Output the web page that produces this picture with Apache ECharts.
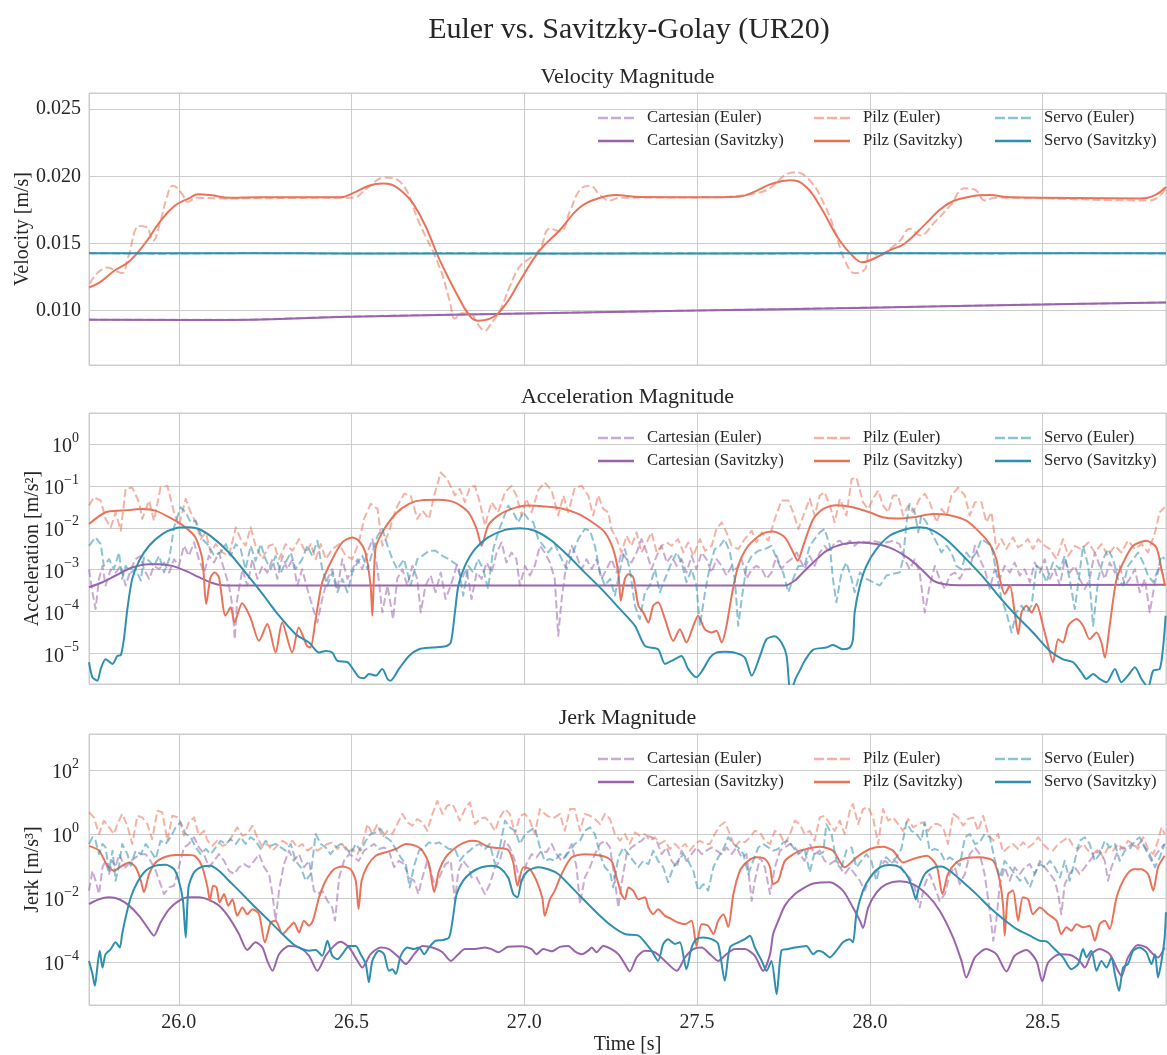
<!DOCTYPE html>
<html><head><meta charset="utf-8">
<script src="https://cdn.jsdelivr.net/npm/echarts@6/dist/echarts.min.js"></script>
<style>html,body{margin:0;padding:0;background:#fff}#c{width:1167px;height:1055px}</style>
</head><body><div id="c"></div>
<script>
// ---------- Tick labels ----------
const X_TICK_VALUES = [26.0, 26.5, 27.0, 27.5, 28.0, 28.5];
const VEL_TICK_VALUES = [0.010, 0.015, 0.020, 0.025];
const ACC_TICK_EXPONENTS = [-5, -4, -3, -2, -1, 0];
const JERK_TICK_EXPONENTS = [-4, -2, 0, 2];
const ROBOTS = ['Cartesian', 'Pilz', 'Servo'];
const PANEL_TITLES = ['Velocity Magnitude', 'Acceleration Magnitude', 'Jerk Magnitude'];

// ---------- Velocity [m/s]  ([time s, value]) ----------
const VEL_CART_EULER = [[25.740,0.00933],[26.100,0.00931],[26.500,0.00956],[27.000,0.00979],[27.500,0.01001],[28.000,0.01023],[28.500,0.01046],[28.857,0.01061]];
const VEL_CART_SG = [[25.740,0.00932],[26.100,0.00930],[26.500,0.00955],[27.000,0.00978],[27.500,0.01000],[28.000,0.01022],[28.500,0.01045],[28.857,0.01060]];
const VEL_PILZ_EULER = [[25.742,0.0120],[25.792,0.0132],[25.835,0.0128],[25.852,0.0139],[25.887,0.0163],[25.907,0.0162],[25.925,0.0152],[25.945,0.0165],[25.965,0.0184],[25.983,0.0193],[26.009,0.0187],[26.026,0.0181],[26.052,0.0184],[26.119,0.01835],[26.466,0.0184],[26.504,0.0184],[26.544,0.0191],[26.596,0.0199],[26.640,0.0196],[26.698,0.0164],[26.755,0.0132],[26.784,0.0107],[26.799,0.0094],[26.819,0.0098],[26.842,0.0098],[26.865,0.0090],[26.886,0.0085],[26.900,0.0089],[26.929,0.0100],[26.958,0.0118],[26.987,0.0133],[27.016,0.0139],[27.045,0.0146],[27.074,0.0161],[27.103,0.0159],[27.132,0.0174],[27.161,0.0190],[27.190,0.0193],[27.219,0.0186],[27.247,0.0182],[27.276,0.0184],[27.508,0.01843],[27.682,0.0188],[27.783,0.0203],[27.826,0.0197],[27.870,0.0178],[27.899,0.0159],[27.928,0.0137],[27.957,0.0128],[27.986,0.0131],[28.000,0.0144],[28.029,0.0141],[28.058,0.0146],[28.087,0.0152],[28.116,0.0161],[28.145,0.0156],[28.188,0.0166],[28.232,0.0178],[28.275,0.0191],[28.304,0.0190],[28.333,0.0182],[28.362,0.0184],[28.810,0.0182],[28.857,0.0191]];
const VEL_PILZ_SG = [[25.740,0.01172],[25.771,0.0121],[25.815,0.0130],[25.858,0.0137],[25.902,0.0150],[25.945,0.0166],[25.988,0.0178],[26.032,0.0184],[26.055,0.01866],[26.090,0.0186],[26.148,0.0184],[26.234,0.01843],[26.466,0.01843],[26.509,0.0188],[26.550,0.0193],[26.590,0.01946],[26.640,0.0190],[26.698,0.0171],[26.756,0.0137],[26.799,0.0115],[26.842,0.0096],[26.865,0.00925],[26.900,0.0094],[26.944,0.0104],[26.987,0.0122],[27.045,0.0145],[27.103,0.0160],[27.161,0.0177],[27.219,0.0184],[27.262,0.0186],[27.334,0.01845],[27.508,0.01843],[27.624,0.0185],[27.670,0.0189],[27.711,0.0194],[27.768,0.0197],[27.812,0.0193],[27.855,0.0178],[27.913,0.0152],[27.957,0.0139],[27.977,0.0136],[28.014,0.0139],[28.058,0.0145],[28.101,0.0150],[28.159,0.0164],[28.217,0.0178],[28.275,0.0184],[28.347,0.0186],[28.405,0.01843],[28.781,0.01835],[28.825,0.0186],[28.857,0.0192]];
const VEL_SERVO_EULER = [[25.740,0.01428],[25.950,0.01424],[26.200,0.01428],[26.500,0.01425],[26.800,0.01428],[27.100,0.01424],[27.400,0.01427],[27.700,0.01424],[28.000,0.01428],[28.300,0.01425],[28.600,0.01428],[28.857,0.01425]];
const VEL_SERVO_SG = [[25.740,0.01427],[26.500,0.01426],[27.500,0.01426],[28.857,0.01427]];

// ---------- Acceleration, log10 of magnitude [m/s²]  ([time s, log10 value]) ----------
const ACC_CART_EULER_LOG10 = [[25.740,-2.99],[25.750,-3.54],[25.759,-3.94],[25.769,-3.22],[25.779,-2.91],[25.788,-3.38],[25.803,-2.99],[25.817,-3.07],[25.832,-2.91],[25.846,-3.38],[25.861,-2.99],[25.875,-2.75],[25.890,-2.67],[25.899,-2.99],[25.914,-3.22],[25.928,-2.91],[25.943,-2.99],[25.957,-2.83],[25.972,-3.07],[25.986,-2.75],[26.000,-2.91],[26.015,-2.43],[26.029,-2.67],[26.044,-2.35],[26.058,-2.75],[26.073,-3.07],[26.087,-2.67],[26.102,-2.83],[26.116,-2.59],[26.131,-2.99],[26.145,-3.38],[26.155,-3.86],[26.162,-4.66],[26.169,-3.70],[26.184,-2.99],[26.198,-3.38],[26.213,-2.75],[26.227,-3.22],[26.242,-2.91],[26.256,-3.07],[26.271,-2.75],[26.285,-3.22],[26.300,-2.67],[26.314,-2.99],[26.329,-2.75],[26.343,-3.38],[26.357,-2.99],[26.372,-3.46],[26.386,-3.86],[26.401,-4.26],[26.415,-3.70],[26.430,-3.22],[26.444,-2.99],[26.459,-3.46],[26.473,-2.75],[26.488,-3.22],[26.502,-2.99],[26.517,-2.75],[26.531,-2.99],[26.546,-2.59],[26.560,-2.27],[26.575,-2.99],[26.589,-4.02],[26.604,-3.38],[26.620,-4.18],[26.632,-3.22],[26.647,-2.99],[26.661,-3.38],[26.676,-2.91],[26.690,-3.22],[26.700,-4.02],[26.714,-3.38],[26.729,-3.14],[26.743,-3.54],[26.758,-3.07],[26.772,-3.70],[26.787,-3.38],[26.804,-2.91],[26.818,-3.22],[26.833,-2.99],[26.847,-3.70],[26.862,-3.07],[26.876,-3.22],[26.891,-2.83],[26.905,-3.07],[26.920,-2.59],[26.934,-2.35],[26.948,-2.83],[26.963,-2.59],[26.977,-2.75],[26.987,-3.38],[27.002,-2.91],[27.016,-3.14],[27.030,-2.91],[27.045,-2.43],[27.059,-2.59],[27.074,-2.83],[27.088,-3.22],[27.098,-4.58],[27.108,-3.70],[27.122,-2.83],[27.137,-2.43],[27.151,-2.67],[27.166,-2.99],[27.180,-2.75],[27.195,-2.99],[27.209,-2.75],[27.223,-3.22],[27.238,-2.99],[27.252,-2.75],[27.267,-3.07],[27.281,-2.59],[27.296,-2.75],[27.310,-2.83],[27.325,-2.59],[27.339,-2.27],[27.354,-2.59],[27.368,-2.99],[27.383,-2.67],[27.397,-2.43],[27.412,-2.83],[27.426,-2.67],[27.441,-2.91],[27.455,-2.75],[27.469,-3.07],[27.484,-2.67],[27.498,-2.99],[27.513,-2.59],[27.527,-2.75],[27.542,-3.07],[27.556,-2.75],[27.571,-2.91],[27.585,-3.14],[27.600,-2.91],[27.614,-2.99],[27.629,-2.75],[27.643,-3.22],[27.658,-2.99],[27.672,-2.91],[27.687,-2.99],[27.701,-3.22],[27.715,-3.07],[27.730,-2.67],[27.744,-2.99],[27.759,-2.83],[27.773,-2.75],[27.788,-2.59],[27.811,-2.99],[27.826,-2.67],[27.840,-2.91],[27.855,-2.59],[27.869,-2.43],[27.884,-2.59],[27.898,-2.35],[27.913,-2.31],[27.927,-2.43],[27.942,-2.31],[27.956,-2.43],[27.971,-2.31],[27.990,-2.35],[28.009,-2.31],[28.029,-2.35],[28.048,-2.35],[28.067,-2.31],[28.086,-2.39],[28.101,-2.75],[28.115,-2.99],[28.130,-2.75],[28.144,-3.07],[28.159,-4.02],[28.173,-3.38],[28.188,-2.91],[28.202,-3.22],[28.217,-3.46],[28.231,-3.14],[28.246,-3.07],[28.260,-3.22],[28.275,-2.99],[28.289,-2.99],[28.304,-2.43],[28.318,-2.75],[28.332,-2.99],[28.347,-3.46],[28.361,-2.99],[28.376,-3.22],[28.390,-2.91],[28.405,-3.07],[28.419,-2.83],[28.434,-3.14],[28.448,-2.99],[28.463,-3.30],[28.477,-2.83],[28.492,-3.07],[28.506,-2.75],[28.521,-3.22],[28.535,-2.99],[28.550,-3.38],[28.564,-2.75],[28.578,-3.07],[28.593,-2.91],[28.607,-3.22],[28.622,-3.46],[28.636,-3.22],[28.651,-2.59],[28.665,-2.91],[28.680,-3.22],[28.694,-2.83],[28.709,-3.07],[28.723,-2.91],[28.738,-3.38],[28.752,-3.22],[28.767,-2.99],[28.781,-3.54],[28.796,-3.22],[28.810,-4.02],[28.825,-3.30],[28.839,-2.91],[28.853,-3.22]];
const ACC_CART_SG_LOG10 = [[25.740,-3.42],[25.779,-3.30],[25.817,-3.14],[25.865,-2.95],[25.914,-2.87],[25.943,-2.87],[25.981,-2.91],[26.020,-3.03],[26.058,-3.18],[26.097,-3.32],[26.126,-3.37],[26.200,-3.38],[26.800,-3.38],[27.400,-3.38],[27.754,-3.38],[27.783,-3.26],[27.805,-3.08],[27.836,-2.83],[27.874,-2.55],[27.922,-2.39],[27.971,-2.35],[28.019,-2.39],[28.067,-2.51],[28.115,-2.75],[28.154,-3.03],[28.183,-3.26],[28.212,-3.34],[28.260,-3.37],[28.857,-3.36]];
const ACC_PILZ_EULER_LOG10 = [[25.740,-1.47],[25.754,-1.27],[25.774,-1.35],[25.788,-1.79],[25.803,-1.99],[25.817,-1.63],[25.832,-2.07],[25.846,-1.07],[25.865,-1.04],[25.885,-1.39],[25.894,-1.79],[25.914,-1.35],[25.928,-1.83],[25.947,-1.04],[25.967,-1.00],[25.986,-1.63],[26.000,-1.95],[26.020,-1.31],[26.034,-1.63],[26.049,-1.87],[26.063,-2.27],[26.078,-2.11],[26.092,-2.59],[26.107,-2.39],[26.126,-2.59],[26.145,-2.67],[26.165,-1.99],[26.179,-2.27],[26.193,-2.43],[26.208,-1.99],[26.222,-2.43],[26.242,-2.75],[26.261,-2.43],[26.275,-2.39],[26.290,-2.75],[26.309,-2.39],[26.329,-2.55],[26.348,-2.27],[26.367,-2.59],[26.382,-2.39],[26.396,-2.75],[26.411,-2.39],[26.425,-2.75],[26.444,-2.51],[26.464,-2.39],[26.483,-2.67],[26.502,-2.75],[26.521,-2.35],[26.536,-1.79],[26.555,-1.43],[26.575,-1.55],[26.589,-2.43],[26.608,-2.11],[26.628,-1.55],[26.652,-1.19],[26.671,-1.23],[26.690,-1.79],[26.705,-1.59],[26.724,-1.79],[26.739,-1.23],[26.758,-0.68],[26.777,-0.84],[26.799,-1.23],[26.813,-1.07],[26.828,-1.39],[26.842,-1.04],[26.857,-1.00],[26.871,-1.39],[26.886,-1.95],[26.905,-1.39],[26.924,-1.63],[26.944,-1.15],[26.963,-1.00],[26.977,-1.23],[26.992,-1.71],[27.006,-1.31],[27.021,-1.63],[27.040,-1.11],[27.059,-0.92],[27.079,-1.11],[27.098,-1.71],[27.113,-1.23],[27.127,-1.63],[27.146,-1.04],[27.166,-1.00],[27.185,-1.23],[27.199,-1.71],[27.214,-1.23],[27.228,-1.55],[27.243,-1.63],[27.252,-2.03],[27.267,-2.27],[27.281,-2.59],[27.296,-2.19],[27.310,-2.43],[27.325,-2.11],[27.339,-2.59],[27.354,-2.35],[27.368,-2.11],[27.383,-2.59],[27.397,-2.43],[27.412,-2.35],[27.426,-2.43],[27.445,-2.27],[27.460,-2.59],[27.474,-2.35],[27.489,-2.67],[27.508,-2.27],[27.523,-2.55],[27.542,-2.43],[27.556,-2.03],[27.571,-1.87],[27.585,-2.11],[27.600,-2.43],[27.619,-2.51],[27.638,-2.27],[27.658,-2.07],[27.672,-2.35],[27.687,-2.11],[27.706,-2.31],[27.725,-1.79],[27.744,-1.35],[27.764,-1.35],[27.778,-1.63],[27.793,-2.03],[27.811,-1.63],[27.826,-1.31],[27.840,-1.71],[27.855,-1.23],[27.869,-1.15],[27.884,-1.47],[27.898,-1.87],[27.913,-1.31],[27.932,-1.71],[27.947,-0.84],[27.961,-0.80],[27.980,-1.39],[27.995,-1.55],[28.009,-1.31],[28.024,-1.11],[28.038,-1.47],[28.053,-1.63],[28.067,-1.23],[28.082,-1.23],[28.096,-1.71],[28.111,-1.47],[28.125,-1.63],[28.144,-1.31],[28.159,-1.19],[28.173,-1.39],[28.193,-1.87],[28.207,-1.55],[28.222,-1.71],[28.236,-1.23],[28.255,-1.04],[28.275,-1.23],[28.289,-1.71],[28.304,-1.39],[28.323,-1.39],[28.337,-1.87],[28.352,-1.63],[28.366,-2.51],[28.381,-2.27],[28.395,-2.51],[28.414,-2.23],[28.429,-2.47],[28.443,-2.39],[28.458,-2.27],[28.472,-2.51],[28.487,-2.27],[28.506,-2.43],[28.521,-2.51],[28.540,-2.75],[28.559,-2.27],[28.574,-2.67],[28.593,-2.43],[28.612,-2.51],[28.632,-2.35],[28.651,-2.59],[28.670,-2.39],[28.689,-2.67],[28.709,-2.43],[28.728,-2.59],[28.747,-2.31],[28.767,-2.51],[28.786,-2.39],[28.805,-2.59],[28.825,-2.11],[28.839,-1.63],[28.853,-1.51]];
const ACC_PILZ_SG_LOG10 = [[25.740,-1.91],[25.788,-1.63],[25.836,-1.59],[25.894,-1.55],[25.932,-1.59],[25.981,-1.79],[26.019,-1.99],[26.048,-2.23],[26.068,-2.75],[26.079,-3.82],[26.092,-3.18],[26.104,-3.07],[26.116,-3.18],[26.135,-4.10],[26.150,-3.90],[26.161,-4.26],[26.183,-3.80],[26.207,-4.14],[26.232,-4.70],[26.256,-4.30],[26.280,-4.98],[26.299,-4.26],[26.328,-4.98],[26.347,-4.38],[26.371,-4.82],[26.381,-4.86],[26.396,-4.18],[26.415,-3.30],[26.444,-2.75],[26.473,-2.35],[26.502,-2.23],[26.521,-2.31],[26.540,-2.59],[26.555,-3.38],[26.560,-4.10],[26.569,-2.51],[26.589,-2.11],[26.627,-1.67],[26.666,-1.43],[26.704,-1.34],[26.753,-1.33],[26.800,-1.40],[26.838,-1.63],[26.862,-2.03],[26.876,-2.43],[26.895,-1.95],[26.924,-1.71],[26.963,-1.55],[27.011,-1.47],[27.059,-1.49],[27.108,-1.54],[27.156,-1.67],[27.204,-1.91],[27.233,-2.11],[27.257,-2.51],[27.272,-3.07],[27.279,-3.74],[27.291,-3.22],[27.301,-3.11],[27.315,-3.18],[27.330,-3.86],[27.344,-4.02],[27.359,-4.26],[27.373,-3.86],[27.387,-3.78],[27.407,-4.18],[27.431,-4.70],[27.450,-4.42],[27.469,-4.74],[27.489,-4.34],[27.503,-4.10],[27.522,-4.42],[27.542,-4.50],[27.556,-4.46],[27.571,-4.74],[27.585,-4.34],[27.600,-3.62],[27.619,-2.91],[27.648,-2.43],[27.687,-2.15],[27.720,-2.09],[27.754,-2.23],[27.778,-2.59],[27.791,-2.79],[27.807,-2.43],[27.836,-1.79],[27.865,-1.55],[27.903,-1.46],[27.951,-1.51],[27.999,-1.63],[28.038,-1.75],[28.077,-1.78],[28.125,-1.75],[28.183,-1.67],[28.231,-1.70],[28.279,-1.83],[28.318,-2.11],[28.347,-2.39],[28.366,-2.75],[28.376,-3.22],[28.390,-3.58],[28.405,-3.38],[28.419,-4.02],[28.429,-4.54],[28.439,-4.02],[28.453,-3.86],[28.468,-4.02],[28.482,-3.82],[28.501,-4.34],[28.516,-4.82],[28.530,-5.21],[28.545,-4.66],[28.559,-4.74],[28.574,-4.34],[28.598,-4.18],[28.617,-4.34],[28.636,-4.66],[28.656,-4.50],[28.670,-4.74],[28.680,-5.10],[28.694,-4.34],[28.714,-3.22],[28.738,-2.75],[28.762,-2.43],[28.800,-2.31],[28.829,-2.47],[28.844,-2.99],[28.854,-3.38]];
const ACC_SERVO_EULER_LOG10 = [[25.740,-2.43],[25.759,-2.23],[25.774,-2.39],[25.783,-2.91],[25.798,-2.75],[25.812,-2.99],[25.827,-2.59],[25.836,-3.22],[25.846,-2.91],[25.861,-3.07],[25.875,-2.99],[25.890,-3.26],[25.899,-2.71],[25.914,-2.79],[25.928,-2.91],[25.943,-2.67],[25.957,-3.07],[25.972,-2.75],[25.986,-1.99],[26.005,-1.51],[26.020,-1.63],[26.034,-1.87],[26.049,-1.83],[26.068,-2.27],[26.087,-2.43],[26.102,-2.67],[26.121,-2.59],[26.136,-2.39],[26.150,-2.67],[26.165,-2.39],[26.179,-2.51],[26.193,-2.99],[26.208,-2.43],[26.222,-2.79],[26.237,-2.39],[26.251,-2.75],[26.266,-2.99],[26.280,-2.67],[26.295,-3.07],[26.309,-2.83],[26.324,-2.59],[26.338,-2.99],[26.357,-2.75],[26.372,-2.43],[26.386,-2.67],[26.401,-2.31],[26.415,-2.99],[26.430,-3.38],[26.444,-3.07],[26.459,-3.54],[26.473,-3.22],[26.488,-3.54],[26.502,-3.07],[26.517,-2.83],[26.531,-2.67],[26.546,-2.99],[26.560,-2.59],[26.575,-2.19],[26.589,-2.03],[26.604,-2.43],[26.618,-2.75],[26.632,-2.99],[26.652,-2.75],[26.671,-3.38],[26.690,-2.75],[26.705,-2.67],[26.724,-2.55],[26.743,-2.55],[26.763,-2.67],[26.782,-2.75],[26.809,-2.91],[26.823,-3.62],[26.838,-2.91],[26.852,-3.07],[26.866,-2.75],[26.881,-2.99],[26.895,-3.46],[26.910,-2.51],[26.924,-2.11],[26.939,-1.79],[26.953,-1.47],[26.968,-1.63],[26.982,-1.87],[26.997,-1.63],[27.011,-1.79],[27.026,-1.87],[27.040,-2.27],[27.055,-2.43],[27.069,-2.59],[27.088,-2.39],[27.108,-2.75],[27.122,-2.99],[27.137,-2.67],[27.156,-2.27],[27.175,-2.03],[27.190,-2.07],[27.204,-2.43],[27.219,-3.07],[27.233,-3.38],[27.248,-3.22],[27.262,-3.62],[27.277,-2.99],[27.291,-2.51],[27.305,-2.99],[27.320,-3.86],[27.334,-4.18],[27.349,-3.54],[27.363,-3.38],[27.378,-2.99],[27.392,-3.54],[27.407,-3.22],[27.426,-2.83],[27.441,-2.59],[27.455,-2.83],[27.469,-3.30],[27.484,-2.99],[27.498,-3.38],[27.508,-4.34],[27.523,-3.54],[27.537,-2.91],[27.551,-2.51],[27.566,-2.43],[27.580,-2.27],[27.595,-2.59],[27.609,-3.22],[27.619,-4.34],[27.629,-3.70],[27.643,-2.91],[27.658,-2.67],[27.677,-2.55],[27.696,-2.51],[27.715,-2.43],[27.735,-2.83],[27.749,-3.07],[27.764,-3.54],[27.778,-3.22],[27.793,-2.91],[27.811,-2.91],[27.826,-2.43],[27.840,-2.27],[27.855,-2.11],[27.869,-2.03],[27.884,-2.43],[27.893,-3.22],[27.903,-3.78],[27.918,-3.07],[27.932,-2.83],[27.947,-3.22],[27.956,-3.54],[27.971,-3.07],[27.990,-3.22],[28.009,-3.30],[28.029,-3.38],[28.048,-3.14],[28.067,-3.10],[28.086,-3.07],[28.096,-2.75],[28.106,-1.87],[28.115,-1.43],[28.130,-1.63],[28.140,-2.11],[28.149,-1.71],[28.164,-1.87],[28.178,-2.11],[28.193,-2.35],[28.207,-2.59],[28.222,-2.43],[28.236,-2.59],[28.250,-2.91],[28.265,-2.99],[28.279,-2.59],[28.294,-2.75],[28.308,-2.59],[28.323,-2.27],[28.337,-2.35],[28.352,-2.43],[28.366,-3.07],[28.381,-3.70],[28.395,-4.02],[28.410,-4.50],[28.424,-4.02],[28.439,-3.86],[28.453,-4.02],[28.468,-3.86],[28.482,-2.91],[28.496,-2.99],[28.511,-3.30],[28.530,-2.83],[28.550,-2.99],[28.564,-2.67],[28.578,-3.22],[28.593,-3.94],[28.607,-3.07],[28.617,-2.43],[28.632,-2.91],[28.646,-4.34],[28.661,-3.22],[28.675,-2.75],[28.689,-2.51],[28.704,-2.75],[28.718,-3.22],[28.733,-3.38],[28.747,-2.91],[28.762,-2.75],[28.776,-2.59],[28.791,-2.83],[28.805,-3.14],[28.820,-3.30],[28.834,-2.99],[28.844,-2.67],[28.853,-2.75]];
const ACC_SERVO_SG_LOG10 = [[25.740,-5.21],[25.750,-5.57],[25.764,-5.65],[25.774,-5.37],[25.788,-5.14],[25.808,-5.25],[25.822,-5.06],[25.832,-5.04],[25.841,-4.66],[25.851,-3.94],[25.865,-3.22],[25.885,-2.79],[25.914,-2.43],[25.952,-2.15],[25.991,-2.01],[26.029,-1.99],[26.058,-2.03],[26.097,-2.23],[26.145,-2.59],[26.193,-3.07],[26.242,-3.58],[26.290,-4.10],[26.338,-4.54],[26.377,-4.74],[26.406,-4.98],[26.425,-4.94],[26.444,-4.98],[26.459,-5.18],[26.488,-5.21],[26.507,-5.41],[26.521,-5.57],[26.536,-5.59],[26.550,-5.49],[26.570,-5.53],[26.589,-5.37],[26.604,-5.61],[26.613,-5.65],[26.637,-5.37],[26.666,-5.06],[26.695,-4.90],[26.734,-4.86],[26.772,-4.83],[26.787,-4.74],[26.799,-4.02],[26.809,-3.38],[26.828,-2.91],[26.857,-2.51],[26.895,-2.23],[26.944,-2.05],[26.987,-2.01],[27.030,-2.07],[27.079,-2.31],[27.127,-2.67],[27.175,-3.07],[27.223,-3.46],[27.272,-3.90],[27.320,-4.34],[27.349,-4.82],[27.387,-4.90],[27.407,-5.25],[27.426,-5.18],[27.455,-5.06],[27.474,-5.37],[27.498,-5.57],[27.518,-5.37],[27.537,-5.10],[27.556,-4.98],[27.580,-4.96],[27.609,-4.98],[27.638,-5.10],[27.658,-5.53],[27.682,-5.06],[27.701,-4.66],[27.725,-4.59],[27.744,-4.74],[27.759,-5.06],[27.770,-5.95],[27.785,-5.60],[27.797,-5.41],[27.811,-5.18],[27.836,-4.91],[27.874,-4.86],[27.893,-4.80],[27.922,-4.90],[27.942,-4.86],[27.951,-4.66],[27.956,-4.02],[27.971,-3.38],[27.990,-2.91],[28.019,-2.51],[28.057,-2.19],[28.106,-2.03],[28.144,-1.99],[28.183,-2.07],[28.231,-2.35],[28.279,-2.75],[28.328,-3.18],[28.376,-3.66],[28.424,-4.10],[28.472,-4.50],[28.521,-4.94],[28.559,-5.14],[28.588,-5.21],[28.612,-5.45],[28.627,-5.61],[28.646,-5.49],[28.665,-5.61],[28.685,-5.69],[28.709,-5.37],[28.728,-5.69],[28.747,-5.53],[28.767,-5.33],[28.786,-5.61],[28.805,-5.80],[28.820,-5.41],[28.839,-5.37],[28.849,-4.82],[28.856,-4.10]];

// ---------- Jerk, log10 of magnitude [m/s³]  ([time s, log10 value]) ----------
const JERK_CART_EULER_LOG10 = [[25.740,-1.77],[25.750,-1.15],[25.759,-1.46],[25.769,-1.88],[25.779,-1.04],[25.788,-0.84],[25.798,-1.25],[25.808,-0.84],[25.817,-1.04],[25.827,-0.63],[25.836,-0.84],[25.846,-1.04],[25.861,-0.84],[25.875,-0.73],[25.890,-0.63],[25.904,-0.63],[25.918,-0.84],[25.933,-1.15],[25.947,-1.57],[25.957,-1.88],[25.972,-1.67],[25.986,-1.62],[26.000,-1.04],[26.015,-0.42],[26.029,-0.31],[26.044,-0.10],[26.058,-0.42],[26.073,-0.63],[26.087,-1.04],[26.102,-0.84],[26.116,-0.63],[26.131,-0.84],[26.145,-1.15],[26.160,-1.25],[26.174,-1.04],[26.189,-0.94],[26.203,-1.04],[26.218,-0.84],[26.232,-0.63],[26.247,-1.04],[26.261,-1.25],[26.271,-1.88],[26.280,-2.71],[26.290,-1.77],[26.304,-0.94],[26.319,-0.52],[26.333,-0.84],[26.348,-0.63],[26.362,-1.04],[26.377,-0.84],[26.391,-1.77],[26.401,-1.88],[26.415,-1.77],[26.430,-2.09],[26.444,-2.30],[26.452,-2.71],[26.464,-1.36],[26.478,-0.84],[26.493,-0.63],[26.507,-0.73],[26.521,-0.84],[26.536,-0.52],[26.550,-0.42],[26.565,-0.31],[26.579,-0.47],[26.594,-0.42],[26.608,-0.52],[26.623,-1.04],[26.637,-0.84],[26.652,-0.94],[26.666,-1.36],[26.681,-1.46],[26.693,-1.88],[26.705,-1.36],[26.719,-0.84],[26.734,-1.36],[26.743,-1.67],[26.758,-1.25],[26.772,-0.94],[26.787,-0.84],[26.799,-2.09],[26.809,-1.15],[26.823,-0.84],[26.838,-1.04],[26.847,-1.36],[26.862,-1.36],[26.876,-1.67],[26.886,-1.88],[26.900,-1.57],[26.915,-1.04],[26.929,-0.84],[26.944,-0.21],[26.958,-0.42],[26.973,-0.84],[26.982,-1.25],[26.992,-1.57],[27.006,-0.94],[27.021,-0.63],[27.035,-0.73],[27.050,-0.52],[27.064,-0.57],[27.079,-0.31],[27.093,-0.63],[27.108,-0.84],[27.122,-0.63],[27.137,-0.31],[27.151,-1.04],[27.161,-2.19],[27.175,-1.36],[27.190,-1.04],[27.204,-0.63],[27.219,-0.31],[27.233,-0.21],[27.248,-0.42],[27.262,-1.46],[27.272,-2.30],[27.281,-1.57],[27.296,-0.63],[27.310,-0.42],[27.325,-0.31],[27.339,-0.21],[27.354,-0.05],[27.368,-0.10],[27.383,-0.21],[27.397,-0.63],[27.412,-0.42],[27.426,-0.84],[27.441,-1.04],[27.455,-0.52],[27.469,-0.84],[27.484,-0.63],[27.498,-0.42],[27.513,-0.63],[27.527,-0.52],[27.542,-0.42],[27.556,-0.52],[27.571,-0.63],[27.585,-0.42],[27.600,-0.63],[27.614,-0.42],[27.629,-0.73],[27.643,-0.63],[27.658,-2.09],[27.667,-1.46],[27.682,-0.73],[27.696,-1.04],[27.711,-1.88],[27.725,-1.04],[27.740,-0.52],[27.754,-0.42],[27.769,-0.31],[27.783,-0.42],[27.811,-0.84],[27.826,-0.31],[27.840,-0.63],[27.855,-0.52],[27.869,-0.84],[27.884,-0.94],[27.898,-0.84],[27.913,-1.04],[27.927,-1.25],[27.942,-1.04],[27.956,-1.25],[27.971,-1.46],[27.985,-1.77],[28.000,-1.36],[28.014,-1.25],[28.029,-1.04],[28.043,-0.84],[28.057,-0.94],[28.072,-0.84],[28.086,-0.94],[28.101,-1.25],[28.115,-1.36],[28.130,-1.67],[28.144,-2.30],[28.159,-1.57],[28.173,-1.25],[28.188,-1.67],[28.202,-2.09],[28.217,-1.88],[28.231,-1.25],[28.246,-1.04],[28.260,-1.57],[28.275,-1.25],[28.289,-0.63],[28.304,-0.42],[28.318,-0.63],[28.332,-1.25],[28.347,-2.40],[28.357,-3.34],[28.366,-2.71],[28.376,-1.57],[28.390,-1.04],[28.405,-1.46],[28.419,-1.04],[28.434,-1.25],[28.448,-1.04],[28.463,-0.94],[28.477,-1.25],[28.492,-0.84],[28.506,-1.04],[28.521,-1.25],[28.535,-1.46],[28.545,-1.88],[28.554,-2.51],[28.564,-1.57],[28.578,-1.25],[28.593,-1.04],[28.607,-1.25],[28.622,-1.04],[28.636,-0.84],[28.651,-0.63],[28.665,-0.52],[28.680,-0.84],[28.689,-1.46],[28.699,-1.04],[28.714,-0.63],[28.728,-0.42],[28.743,-0.47],[28.757,-0.31],[28.771,-0.42],[28.786,-0.21],[28.800,-0.52],[28.815,-0.84],[28.829,-0.63],[28.844,-0.42],[28.853,-0.31]];
const JERK_CART_SG_LOG10 = [[25.740,-2.19],[25.769,-2.04],[25.798,-1.98],[25.827,-2.04],[25.856,-2.24],[25.885,-2.56],[25.909,-2.92],[25.928,-3.18],[25.947,-2.77],[25.972,-2.35],[26.000,-2.09],[26.029,-1.98],[26.058,-1.98],[26.087,-2.06],[26.116,-2.24],[26.145,-2.61],[26.174,-3.13],[26.198,-3.63],[26.222,-3.39],[26.242,-3.55],[26.256,-3.97],[26.271,-4.28],[26.290,-3.76],[26.319,-3.50],[26.348,-3.55],[26.377,-3.81],[26.401,-4.28],[26.425,-3.81],[26.449,-3.50],[26.468,-3.37],[26.493,-3.55],[26.517,-3.97],[26.531,-4.18],[26.555,-3.76],[26.584,-3.55],[26.608,-3.60],[26.637,-3.86],[26.657,-4.07],[26.681,-3.76],[26.705,-3.50],[26.734,-3.55],[26.763,-3.70],[26.787,-3.97],[26.809,-3.76],[26.828,-3.60],[26.857,-3.60],[26.886,-3.55],[26.905,-3.60],[26.924,-3.70],[26.953,-3.53],[26.992,-3.51],[27.021,-3.60],[27.035,-3.76],[27.055,-3.60],[27.079,-3.67],[27.103,-3.53],[27.127,-3.50],[27.146,-3.67],[27.166,-3.76],[27.185,-3.65],[27.195,-3.55],[27.209,-3.70],[27.228,-3.50],[27.252,-3.60],[27.272,-3.76],[27.291,-4.07],[27.305,-4.30],[27.325,-3.86],[27.349,-3.65],[27.378,-3.70],[27.407,-3.97],[27.441,-4.28],[27.465,-3.86],[27.489,-3.60],[27.513,-3.55],[27.537,-3.76],[27.561,-3.97],[27.585,-3.76],[27.609,-3.60],[27.638,-3.60],[27.667,-3.81],[27.691,-4.28],[27.711,-3.76],[27.720,-3.13],[27.735,-2.71],[27.754,-2.24],[27.783,-1.88],[27.812,-1.67],[27.836,-1.55],[27.884,-1.51],[27.922,-1.77],[27.951,-2.30],[27.971,-2.71],[27.980,-2.94],[27.995,-2.30],[28.019,-1.83],[28.048,-1.57],[28.086,-1.48],[28.125,-1.57],[28.164,-1.88],[28.202,-2.40],[28.241,-3.24],[28.265,-3.97],[28.279,-4.49],[28.304,-3.86],[28.337,-3.60],[28.366,-3.76],[28.395,-4.30],[28.419,-3.81],[28.453,-3.63],[28.482,-3.97],[28.499,-4.61],[28.516,-4.02],[28.550,-3.76],[28.578,-3.78],[28.607,-3.97],[28.622,-4.18],[28.641,-3.76],[28.665,-3.60],[28.694,-3.76],[28.718,-4.28],[28.728,-4.44],[28.747,-3.86],[28.776,-3.47],[28.800,-3.55],[28.820,-3.76],[28.834,-3.86],[28.853,-3.55]];
const JERK_PILZ_EULER_LOG10 = [[25.740,0.68],[25.754,0.52],[25.769,0.00],[25.783,0.42],[25.798,0.21],[25.812,0.00],[25.822,0.31],[25.836,0.63],[25.851,0.26],[25.865,-0.31],[25.880,0.57],[25.894,0.52],[25.909,0.31],[25.923,-0.16],[25.938,0.73],[25.952,0.68],[25.967,-0.21],[25.981,0.57],[26.000,0.52],[26.015,-0.05],[26.029,0.37],[26.044,0.52],[26.058,-0.05],[26.073,0.10],[26.083,-0.21],[26.097,-0.37],[26.111,-0.21],[26.126,-0.37],[26.140,-0.31],[26.155,-0.05],[26.169,0.21],[26.184,-0.05],[26.198,0.00],[26.213,0.26],[26.227,-0.10],[26.242,-0.42],[26.256,-0.31],[26.271,-0.52],[26.285,-0.37],[26.300,-0.21],[26.314,-0.31],[26.329,-0.21],[26.343,-0.42],[26.357,-0.31],[26.372,-0.52],[26.386,-0.42],[26.401,-0.52],[26.415,-0.42],[26.430,-0.31],[26.444,-0.26],[26.459,-0.47],[26.473,-0.31],[26.488,-0.57],[26.502,-0.47],[26.517,-0.63],[26.531,-0.31],[26.546,0.31],[26.560,0.00],[26.575,0.31],[26.589,-0.10],[26.604,0.10],[26.618,0.00],[26.632,0.31],[26.647,0.63],[26.661,0.37],[26.676,0.26],[26.690,0.47],[26.705,0.37],[26.719,0.10],[26.734,0.63],[26.748,1.04],[26.763,0.63],[26.777,0.89],[26.792,0.94],[26.799,0.78],[26.813,0.42],[26.828,0.78],[26.842,0.99],[26.857,0.31],[26.871,0.47],[26.886,0.52],[26.900,0.37],[26.915,0.10],[26.929,0.52],[26.944,0.78],[26.958,0.63],[26.973,0.00],[26.987,0.57],[27.002,0.63],[27.016,0.42],[27.030,0.00],[27.045,0.78],[27.059,0.63],[27.074,0.52],[27.088,0.52],[27.103,0.63],[27.117,0.10],[27.132,0.78],[27.146,0.78],[27.161,0.10],[27.175,0.63],[27.190,0.57],[27.204,0.47],[27.219,0.31],[27.233,0.63],[27.248,0.47],[27.262,0.00],[27.277,-0.21],[27.291,0.00],[27.305,-0.31],[27.320,0.05],[27.334,-0.05],[27.349,0.00],[27.363,-0.21],[27.378,-0.10],[27.392,-0.31],[27.407,-0.21],[27.421,-0.47],[27.436,-0.31],[27.450,-0.47],[27.465,-0.31],[27.479,-0.52],[27.494,-0.31],[27.508,-0.21],[27.523,-0.31],[27.537,-0.31],[27.551,0.00],[27.566,0.26],[27.580,0.37],[27.595,0.00],[27.609,-0.42],[27.624,-0.21],[27.638,-0.26],[27.653,-0.10],[27.667,0.10],[27.682,0.05],[27.696,-0.21],[27.711,-0.31],[27.725,0.10],[27.740,0.00],[27.754,-0.31],[27.769,0.00],[27.783,0.42],[27.797,0.31],[27.811,0.00],[27.826,0.10],[27.840,-0.21],[27.855,0.52],[27.869,0.57],[27.884,0.31],[27.898,0.10],[27.913,0.42],[27.927,0.00],[27.942,0.73],[27.951,0.94],[27.966,0.31],[27.980,0.78],[27.995,0.84],[28.009,0.52],[28.024,-0.31],[28.038,0.78],[28.053,0.42],[28.067,0.52],[28.082,0.31],[28.096,0.10],[28.111,0.47],[28.125,0.21],[28.140,0.31],[28.154,0.37],[28.169,0.10],[28.183,0.31],[28.197,0.31],[28.212,0.21],[28.226,-0.31],[28.241,0.63],[28.255,0.52],[28.270,0.26],[28.284,0.47],[28.299,0.52],[28.313,0.10],[28.328,0.57],[28.342,0.00],[28.357,-0.21],[28.371,0.00],[28.386,-0.57],[28.400,-0.42],[28.414,-0.31],[28.429,-0.47],[28.443,-0.26],[28.458,-0.42],[28.472,-0.31],[28.487,-0.10],[28.501,-0.31],[28.516,-0.47],[28.530,-0.52],[28.545,-0.31],[28.559,-0.21],[28.574,-0.10],[28.588,-0.37],[28.603,-0.47],[28.617,-0.31],[28.632,-0.52],[28.646,-0.63],[28.661,-0.47],[28.675,-0.73],[28.689,-0.42],[28.704,-0.52],[28.718,-0.31],[28.733,-0.47],[28.747,-0.21],[28.762,-0.31],[28.776,-0.47],[28.791,-0.10],[28.805,-0.47],[28.820,-0.63],[28.834,-0.21],[28.844,0.21],[28.853,0.00]];
const JERK_PILZ_SG_LOG10 = [[25.740,-0.37],[25.769,-0.52],[25.793,-0.99],[25.812,-1.15],[25.836,-0.99],[25.856,-0.89],[25.875,-1.04],[25.890,-1.46],[25.899,-1.82],[25.914,-1.25],[25.933,-0.89],[25.962,-0.71],[25.991,-0.66],[26.029,-0.66],[26.049,-0.71],[26.068,-1.04],[26.083,-1.67],[26.090,-2.09],[26.099,-1.62],[26.109,-1.67],[26.118,-2.14],[26.131,-1.88],[26.143,-2.24],[26.155,-2.04],[26.169,-2.56],[26.184,-2.30],[26.198,-2.51],[26.213,-2.35],[26.232,-2.51],[26.249,-3.39],[26.266,-2.77],[26.280,-2.71],[26.300,-3.13],[26.319,-2.92],[26.333,-2.77],[26.348,-3.08],[26.362,-2.71],[26.377,-2.87],[26.388,-2.71],[26.406,-1.98],[26.425,-1.46],[26.449,-1.10],[26.473,-1.02],[26.497,-1.10],[26.512,-1.46],[26.520,-2.35],[26.529,-1.46],[26.546,-0.99],[26.570,-0.68],[26.599,-0.57],[26.628,-0.47],[26.657,-0.31],[26.686,-0.37],[26.705,-0.52],[26.724,-0.94],[26.739,-1.82],[26.753,-1.15],[26.772,-0.73],[26.796,-0.47],[26.818,-0.31],[26.847,-0.21],[26.866,-0.23],[26.895,-0.40],[26.924,-0.44],[26.953,-0.50],[26.968,-0.90],[26.980,-1.62],[26.997,-1.04],[27.016,-1.10],[27.035,-1.46],[27.052,-2.00],[27.059,-2.56],[27.074,-2.04],[27.088,-1.77],[27.108,-1.25],[27.137,-0.73],[27.175,-0.63],[27.223,-0.68],[27.252,-0.84],[27.267,-1.36],[27.281,-1.88],[27.291,-2.04],[27.301,-1.67],[27.315,-1.77],[27.330,-2.04],[27.349,-1.98],[27.359,-2.30],[27.373,-2.51],[27.387,-2.35],[27.407,-2.56],[27.426,-2.66],[27.445,-2.77],[27.465,-2.82],[27.484,-2.71],[27.498,-3.50],[27.513,-2.82],[27.532,-2.87],[27.547,-3.13],[27.561,-2.71],[27.576,-2.51],[27.590,-2.90],[27.605,-1.88],[27.624,-1.15],[27.648,-0.84],[27.672,-0.73],[27.696,-0.78],[27.711,-1.04],[27.720,-1.57],[27.735,-1.46],[27.754,-0.84],[27.783,-0.60],[27.797,-0.52],[27.855,-0.40],[27.893,-0.52],[27.927,-1.04],[27.961,-0.73],[28.000,-0.47],[28.038,-0.40],[28.067,-0.52],[28.096,-0.89],[28.125,-0.78],[28.164,-0.68],[28.193,-0.99],[28.210,-1.88],[28.226,-1.25],[28.250,-0.89],[28.279,-0.75],[28.318,-0.73],[28.357,-0.84],[28.376,-1.46],[28.386,-2.30],[28.390,-3.18],[28.400,-1.88],[28.414,-1.77],[28.429,-2.71],[28.443,-1.98],[28.458,-2.04],[28.472,-2.51],[28.492,-2.30],[28.516,-2.51],[28.540,-2.71],[28.554,-3.13],[28.569,-2.92],[28.583,-3.03],[28.598,-2.82],[28.617,-2.92],[28.636,-2.87],[28.651,-3.34],[28.665,-2.82],[28.680,-2.71],[28.694,-2.97],[28.714,-1.98],[28.738,-1.36],[28.762,-1.10],[28.786,-1.10],[28.805,-1.25],[28.820,-1.77],[28.834,-1.04],[28.853,-0.68]];
const JERK_SERVO_EULER_LOG10 = [[25.740,-0.31],[25.750,-0.10],[25.759,-0.21],[25.769,-0.63],[25.779,-0.31],[25.788,-0.42],[25.798,-1.15],[25.808,-0.52],[25.817,-1.46],[25.827,-0.99],[25.836,-0.31],[25.851,-0.63],[25.861,-0.99],[25.875,-0.52],[25.890,-0.63],[25.904,-0.31],[25.918,-0.52],[25.933,-0.78],[25.947,-0.21],[25.962,-0.31],[25.976,-0.10],[25.991,0.21],[26.005,0.37],[26.020,0.00],[26.034,-0.10],[26.049,-0.42],[26.063,-0.63],[26.078,-0.47],[26.092,-0.63],[26.107,-0.42],[26.121,-0.21],[26.136,-0.31],[26.150,-0.16],[26.165,-0.31],[26.179,-0.10],[26.193,-0.31],[26.208,-0.10],[26.222,-0.21],[26.237,-0.47],[26.251,-0.21],[26.266,-0.37],[26.280,-0.31],[26.295,-0.42],[26.309,-0.52],[26.324,-0.31],[26.338,-0.84],[26.353,-1.04],[26.367,-1.46],[26.382,-1.25],[26.396,0.00],[26.411,-0.31],[26.425,-0.42],[26.439,-0.63],[26.454,-0.42],[26.468,-0.31],[26.483,-0.42],[26.497,-0.63],[26.512,-0.31],[26.526,-0.52],[26.541,-0.21],[26.555,0.00],[26.570,0.05],[26.584,0.16],[26.599,-0.10],[26.613,-0.21],[26.628,-0.47],[26.642,-0.73],[26.657,-0.94],[26.668,-1.67],[26.681,-0.99],[26.695,-0.52],[26.710,-0.42],[26.724,-0.26],[26.739,-0.31],[26.753,-0.26],[26.768,-0.37],[26.782,-0.47],[26.799,-0.47],[26.813,-0.84],[26.828,-0.63],[26.842,-0.52],[26.857,-0.37],[26.871,-0.31],[26.886,-0.47],[26.900,-0.31],[26.915,-0.94],[26.929,-0.42],[26.944,0.42],[26.958,0.21],[26.973,0.10],[26.987,-0.31],[27.002,0.00],[27.016,0.10],[27.030,0.21],[27.045,-0.42],[27.059,-0.84],[27.074,-0.78],[27.088,-0.84],[27.103,-0.63],[27.117,-0.73],[27.132,-0.52],[27.146,-0.31],[27.161,-0.21],[27.175,0.10],[27.190,0.21],[27.204,0.00],[27.219,-0.63],[27.233,-1.04],[27.248,-1.20],[27.257,-1.67],[27.272,-0.73],[27.286,-0.42],[27.301,-0.63],[27.315,-0.84],[27.330,-1.04],[27.344,-0.84],[27.359,-0.94],[27.373,-0.52],[27.387,-0.84],[27.402,-1.04],[27.416,-1.51],[27.431,-1.04],[27.445,-0.84],[27.460,-0.63],[27.474,-0.84],[27.489,-1.15],[27.503,-1.77],[27.518,-1.57],[27.532,-1.77],[27.547,-1.04],[27.561,-0.73],[27.576,-0.47],[27.590,-0.10],[27.605,-0.31],[27.619,-0.42],[27.634,-0.63],[27.648,-1.25],[27.662,-0.84],[27.677,-0.42],[27.691,-0.31],[27.706,-0.42],[27.720,-0.52],[27.735,-0.47],[27.749,-0.26],[27.764,-0.21],[27.778,-0.42],[27.793,-0.63],[27.811,-0.47],[27.826,-1.20],[27.840,-0.57],[27.855,-0.63],[27.865,-0.57],[27.874,0.31],[27.889,0.00],[27.903,-0.84],[27.918,-1.04],[27.932,-0.52],[27.947,-0.42],[27.961,-1.04],[27.975,-0.84],[27.990,-0.63],[28.004,-0.84],[28.019,-1.46],[28.033,-0.84],[28.048,-0.73],[28.062,-0.89],[28.077,-0.73],[28.091,-0.47],[28.106,0.37],[28.120,0.10],[28.135,0.00],[28.149,-0.21],[28.159,0.37],[28.173,-0.52],[28.188,-0.47],[28.202,-0.52],[28.217,-0.84],[28.231,-0.73],[28.246,-0.84],[28.260,-0.99],[28.275,-0.10],[28.289,0.00],[28.304,-0.31],[28.318,-0.26],[28.332,0.00],[28.347,-0.10],[28.361,-0.78],[28.376,-1.36],[28.390,-0.84],[28.405,-1.04],[28.419,-1.25],[28.434,-1.46],[28.448,-1.36],[28.463,-1.67],[28.477,-1.25],[28.492,-0.94],[28.506,-1.04],[28.521,-0.84],[28.535,-1.04],[28.550,-1.36],[28.564,-0.84],[28.578,-1.46],[28.593,-0.84],[28.607,-0.21],[28.622,-0.10],[28.636,-0.31],[28.651,-0.84],[28.665,-0.63],[28.680,-0.21],[28.694,-0.42],[28.709,-0.31],[28.723,-0.84],[28.738,-0.52],[28.752,-0.47],[28.767,-0.21],[28.781,-0.10],[28.796,-0.42],[28.810,-0.63],[28.825,-1.04],[28.839,-0.73],[28.853,-0.31]];
const JERK_SERVO_SG_LOG10 = [[25.740,-3.97],[25.750,-4.38],[25.757,-4.75],[25.764,-4.18],[25.771,-3.65],[25.779,-4.18],[25.788,-3.76],[25.803,-3.60],[25.817,-3.39],[25.829,-3.55],[25.836,-3.13],[25.846,-2.61],[25.861,-1.98],[25.880,-1.51],[25.904,-1.15],[25.933,-0.99],[25.962,-0.96],[25.986,-1.10],[26.000,-1.46],[26.012,-2.09],[26.020,-3.24],[26.028,-1.67],[26.044,-1.20],[26.068,-1.02],[26.092,-0.99],[26.116,-1.15],[26.145,-1.46],[26.184,-1.88],[26.222,-2.30],[26.261,-2.71],[26.300,-3.13],[26.338,-3.50],[26.377,-3.65],[26.396,-3.63],[26.415,-3.81],[26.430,-3.34],[26.444,-3.81],[26.459,-3.92],[26.473,-3.76],[26.493,-3.50],[26.512,-3.50],[26.526,-3.76],[26.541,-4.07],[26.550,-4.64],[26.560,-3.97],[26.579,-3.65],[26.594,-3.76],[26.608,-4.28],[26.618,-4.23],[26.628,-4.38],[26.642,-3.81],[26.661,-3.55],[26.681,-3.60],[26.695,-3.55],[26.710,-3.76],[26.724,-3.55],[26.743,-3.34],[26.763,-3.32],[26.782,-3.24],[26.792,-2.71],[26.804,-1.88],[26.823,-1.46],[26.847,-1.20],[26.876,-1.04],[26.905,-0.99],[26.929,-1.06],[26.953,-1.36],[26.968,-1.88],[26.980,-1.98],[26.992,-1.46],[27.011,-1.15],[27.040,-1.04],[27.069,-1.10],[27.098,-1.25],[27.137,-1.67],[27.175,-2.09],[27.214,-2.51],[27.252,-2.87],[27.291,-3.13],[27.330,-3.18],[27.349,-3.39],[27.368,-3.65],[27.387,-3.97],[27.402,-3.44],[27.416,-3.29],[27.436,-3.44],[27.450,-3.39],[27.469,-4.23],[27.484,-3.55],[27.498,-3.29],[27.518,-3.24],[27.542,-3.29],[27.561,-3.44],[27.580,-4.59],[27.595,-3.55],[27.619,-3.39],[27.638,-3.29],[27.653,-3.18],[27.667,-3.55],[27.687,-3.97],[27.701,-4.28],[27.715,-3.97],[27.730,-5.01],[27.744,-3.65],[27.764,-3.60],[27.783,-3.55],[27.816,-3.50],[27.836,-3.76],[27.850,-3.65],[27.865,-3.70],[27.884,-3.86],[27.903,-3.65],[27.922,-3.39],[27.942,-3.29],[27.951,-3.39],[27.961,-2.51],[27.980,-1.77],[28.004,-1.30],[28.029,-1.04],[28.057,-0.97],[28.086,-1.04],[28.111,-1.36],[28.125,-1.77],[28.133,-2.04],[28.142,-1.67],[28.159,-1.25],[28.183,-1.06],[28.207,-1.02],[28.231,-1.15],[28.270,-1.51],[28.308,-1.88],[28.347,-2.30],[28.386,-2.66],[28.424,-2.97],[28.463,-3.18],[28.492,-3.34],[28.511,-3.36],[28.530,-3.55],[28.559,-3.86],[28.583,-4.23],[28.603,-4.07],[28.617,-3.60],[28.627,-3.86],[28.641,-3.65],[28.656,-4.28],[28.670,-3.97],[28.685,-4.18],[28.699,-3.86],[28.709,-4.38],[28.721,-4.91],[28.733,-4.18],[28.747,-4.07],[28.762,-3.65],[28.781,-3.55],[28.800,-3.70],[28.815,-4.07],[28.825,-3.76],[28.834,-4.49],[28.844,-3.97],[28.853,-3.24],[28.857,-2.45]];

// ---------- Styling ----------
const FONT = "'Liberation Serif', 'Times New Roman', 'DejaVu Serif', serif";
const TEXT = '#262626';
const GRIDC = '#cccccc';
const BASE = {Cartesian: [154, 100, 173], Pilz: [233, 115, 90], Servo: [47, 143, 174]};
const EULER_ALPHA = 0.55;
function col(robot, euler) {
  const c = BASE[robot];
  return euler ? `rgba(${c[0]},${c[1]},${c[2]},${EULER_ALPHA})` : `rgb(${c[0]},${c[1]},${c[2]})`;
}
const DASH_ICON = 'path://M0,0h10v2.4h-10z M13,0h10v2.4h-10z M26,0h10v2.4h-10z';
const SOLID_ICON = 'path://M0,0h36v2.4h-36z';

const PANEL_DATA = [
  {Cartesian: [VEL_CART_EULER, VEL_CART_SG], Pilz: [VEL_PILZ_EULER, VEL_PILZ_SG], Servo: [VEL_SERVO_EULER, VEL_SERVO_SG]},
  {Cartesian: [ACC_CART_EULER_LOG10, ACC_CART_SG_LOG10], Pilz: [ACC_PILZ_EULER_LOG10, ACC_PILZ_SG_LOG10], Servo: [ACC_SERVO_EULER_LOG10, ACC_SERVO_SG_LOG10]},
  {Cartesian: [JERK_CART_EULER_LOG10, JERK_CART_SG_LOG10], Pilz: [JERK_PILZ_EULER_LOG10, JERK_PILZ_SG_LOG10], Servo: [JERK_SERVO_EULER_LOG10, JERK_SERVO_SG_LOG10]}
];

const GRID_TOPS = [93, 413, 734];
const GRID_H = [272, 271, 271];
const Y_RANGES = [[0.00595, 0.0262], [-5.73, 0.74], [-5.35, 3.13]];
const Y_SPLIT = [4, 6, 4];
const Y_NAMES = ['Velocity [m/s]', 'Acceleration [m/s²]', 'Jerk [m/s³]'];
const Y_NAMEGAP = [56, 46, 46];
// smoothing of the drawn line (velocity curves, Savitzky curves, noisy Euler curves)
const SMOOTH = [[0.45, 0.45], [0, 0.25], [0, 0.25]];

const near = (v, list) => list.some(x => Math.abs(x - v) < 1e-7);
function powLabel(v, list) {
  const k = Math.round(v);
  if (Math.abs(v - k) > 1e-6 || list.indexOf(k) < 0) return '';
  return '{b|10}{s|' + (k < 0 ? '\u2212' + (-k) : String(k)) + '}';
}
const RICH = {
  b: {fontSize: 20, fontFamily: FONT, color: TEXT, lineHeight: 26, verticalAlign: 'bottom'},
  s: {fontSize: 14, fontFamily: FONT, color: TEXT, lineHeight: 14, verticalAlign: 'top'}
};

const grid = [], xAxis = [], yAxis = [], series = [], legend = [], title = [];
title.push({text: 'Euler vs. Savitzky-Golay (UR20)', left: 629, top: 15, textAlign: 'center', padding: 0,
  textStyle: {fontFamily: FONT, fontSize: 30, fontWeight: 'normal', color: TEXT}});

for (let p = 0; p < 3; p++) {
  grid.push({left: 89, width: 1077, top: GRID_TOPS[p], height: GRID_H[p], show: true, borderColor: GRIDC, borderWidth: 1,
    backgroundColor: '#fff', containLabel: false, outerBoundsMode: 'none'});
  title.push({text: PANEL_TITLES[p], left: 627.5, top: GRID_TOPS[p] - 27, textAlign: 'center', padding: 0,
    textStyle: {fontFamily: FONT, fontSize: 22, fontWeight: 'normal', color: TEXT}});
  xAxis.push({
    type: 'value', gridIndex: p, min: 25.74, max: 28.857, splitNumber: 6,
    axisLine: {show: false}, axisTick: {show: false},
    splitLine: {show: true, lineStyle: {color: GRIDC, width: 1}},
    axisLabel: {show: p === 2, fontFamily: FONT, fontSize: 20, color: TEXT, margin: 8,
      formatter: v => near(v, X_TICK_VALUES) ? v.toFixed(1) : ''},
    name: p === 2 ? 'Time [s]' : '', nameLocation: 'middle', nameGap: 30,
    nameTextStyle: {fontFamily: FONT, fontSize: 20, color: TEXT}
  });
  yAxis.push({
    type: 'value', gridIndex: p, min: Y_RANGES[p][0], max: Y_RANGES[p][1], splitNumber: Y_SPLIT[p],
    axisLine: {show: false}, axisTick: {show: false},
    splitLine: {show: true, lineStyle: {color: GRIDC, width: 1}},
    axisLabel: p === 0
      ? {fontFamily: FONT, fontSize: 20, color: TEXT, margin: 8, formatter: v => near(v, VEL_TICK_VALUES) ? v.toFixed(3) : ''}
      : {fontFamily: FONT, fontSize: 20, color: TEXT, margin: 10, rich: RICH,
         formatter: v => powLabel(v, p === 1 ? ACC_TICK_EXPONENTS : JERK_TICK_EXPONENTS)},
    name: Y_NAMES[p], nameLocation: 'middle', nameGap: Y_NAMEGAP[p], nameRotate: 90, nameMoveOverlap: false,
    nameTextStyle: {fontFamily: FONT, fontSize: 20, color: TEXT}
  });
  ROBOTS.forEach((robot, ri) => {
    [true, false].forEach((euler, ei) => {
      const c = col(robot, euler);
      series.push({
        type: 'line', name: robot + (euler ? ' (Euler)' : ' (Savitzky)'),
        xAxisIndex: p, yAxisIndex: p, data: PANEL_DATA[p][robot][ei],
        showSymbol: false, symbol: 'none', clip: true, animation: false,
        smooth: SMOOTH[p][ei],
        lineStyle: {color: c, width: 2, type: euler ? [8, 3.5] : 'solid', cap: 'butt', join: 'round'},
        itemStyle: {color: c}, emphasis: {disabled: true}, z: 2 + ri * 2 + ei
      });
    });
  });
  const LEG_LEFT = [598, 814, 995];
  ROBOTS.forEach((robot, ri) => {
    legend.push({
      orient: 'vertical', left: LEG_LEFT[ri], top: GRID_TOPS[p] + 15, padding: 0,
      itemWidth: 36, itemHeight: 2.4, itemGap: 3, selectedMode: false,
      textStyle: {fontFamily: FONT, fontSize: 16.7, color: TEXT, lineHeight: 20, padding: [0, 0, 0, 8]},
      data: [
        {name: robot + ' (Euler)', icon: DASH_ICON, itemStyle: {color: col(robot, true)}},
        {name: robot + ' (Savitzky)', icon: SOLID_ICON, itemStyle: {color: col(robot, false)}}
      ]
    });
  });
}

const chart = echarts.init(document.getElementById('c'), null, {renderer: 'canvas'});
chart.setOption({backgroundColor: '#fff', animation: false, title, grid, xAxis, yAxis, series, legend, tooltip: {show: false}});
</script></body></html>
